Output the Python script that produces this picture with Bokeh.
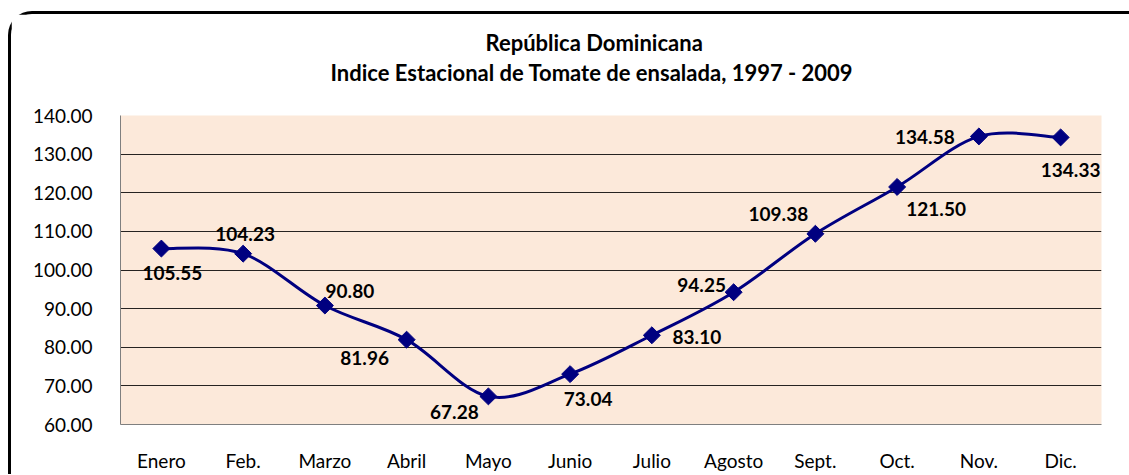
import math
from bokeh.plotting import figure
from bokeh.models import Range1d, FixedTicker, LabelSet, ColumnDataSource, NumeralTickFormatter, Title
from bokeh.core.properties import value
from bokeh.embed import file_html
from bokeh.resources import INLINE

months = ["Enero", "Feb.", "Marzo", "Abril", "Mayo", "Junio", "Julio",
          "Agosto", "Sept.", "Oct.", "Nov.", "Dic."]
values = [105.55, 104.23, 90.80, 81.96, 67.28, 73.04, 83.10,
          94.25, 109.38, 121.50, 134.58, 134.33]
y_ticks = [60, 70, 80, 90, 100, 110, 120, 130, 140]
title_1 = "República Dominicana"
title_2 = "Indice Estacional de  Tomate de ensalada,  1997 - 2009"

# label placement (screen px offsets, style only)
lab_dx = [11, 2, 25, -42, -34, 18, 45, -32, -37, 39, -54, 10]
lab_dy = [-24, 20, 15, -18, -16, -25, -2, 7, 20, -22, -1, -33]

FONT = "Lato"
NAVY = "#000080"

xs = list(range(1, len(months) + 1))

p = figure(frame_width=981, frame_height=309,
           x_range=Range1d(0.5, 12.5), y_range=Range1d(60, 140),
           output_backend="svg", toolbar_location=None,
           min_border_left=109, min_border_top=101,
           min_border_right=28, min_border_bottom=48)
p.styles = {"border-top": "3px solid black", "border-left": "3px solid black",
            "border-top-left-radius": "24px",
            "margin-top": "11px", "margin-left": "8px"}

p.background_fill_color = "#FCE9DA"
p.border_fill_color = "white"
p.outline_line_color = None

# titles (added bottom-up: spacer first, closest to the frame)
p.add_layout(Title(text=" ", text_font_size="24px", standoff=0), "above")
p.add_layout(Title(text=title_2, align="left", offset=210, text_font=FONT,
                   text_font_style="bold", text_font_size="22px", standoff=1,
                   text_color="black"), "above")
p.add_layout(Title(text=title_1, align="left", offset=365, text_font=FONT,
                   text_font_style="bold", text_font_size="22px", standoff=1,
                   text_color="black"), "above")

# axes
p.xaxis.ticker = FixedTicker(ticks=xs)
p.xaxis.major_label_overrides = {x: m for x, m in zip(xs, months)}
p.yaxis.ticker = FixedTicker(ticks=y_ticks)
p.yaxis.formatter = NumeralTickFormatter(format="0.00")
for ax in (p.xaxis, p.yaxis):
    ax.major_tick_line_color = None
    ax.minor_tick_line_color = None
    ax.axis_line_color = "#7f7f7f"
    ax.axis_line_width = 1
    ax.major_label_text_font = FONT
    ax.major_label_text_font_size = "19px"
    ax.major_label_text_color = "black"
p.xaxis.major_label_standoff = 18
p.yaxis.major_label_standoff = 22

p.xgrid.grid_line_color = None
p.ygrid.ticker = FixedTicker(ticks=y_ticks[1:])
p.ygrid.grid_line_color = "black"
p.ygrid.grid_line_width = 1
p.ygrid.grid_line_alpha = 0.85

# smoothed line (Catmull-Rom style bezier segments through the data points)
n = len(values)
x0s, y0s, x1s, y1s, cx0, cy0, cx1, cy1 = [], [], [], [], [], [], [], []
for i in range(n - 1):
    pa = (xs[max(i - 1, 0)], values[max(i - 1, 0)])
    pb = (xs[i], values[i])
    pc = (xs[i + 1], values[i + 1])
    pd = (xs[min(i + 2, n - 1)], values[min(i + 2, n - 1)])
    x0s.append(pb[0]); y0s.append(pb[1])
    x1s.append(pc[0]); y1s.append(pc[1])
    cx0.append(pb[0] + (pc[0] - pa[0]) / 6.0)
    cy0.append(pb[1] + (pc[1] - pa[1]) / 6.0)
    cx1.append(pc[0] - (pd[0] - pb[0]) / 6.0)
    cy1.append(pc[1] - (pd[1] - pb[1]) / 6.0)
bsrc = ColumnDataSource(dict(x0=x0s, y0=y0s, x1=x1s, y1=y1s,
                             cx0=cx0, cy0=cy0, cx1=cx1, cy1=cy1))
p.bezier(x0="x0", y0="y0", x1="x1", y1="y1", cx0="cx0", cy0="cy0",
         cx1="cx1", cy1="cy1", source=bsrc, line_color=NAVY, line_width=3)

src = ColumnDataSource(dict(x=xs, y=values,
                            txt=["%.2f" % v for v in values],
                            dx=lab_dx, dy=lab_dy))
p.scatter("x", "y", source=src, marker="square", size=12, angle=math.pi / 4,
          fill_color=NAVY, line_color=NAVY)

labels = LabelSet(x="x", y="y", text="txt", source=src,
                  x_offset="dx", y_offset="dy",
                  text_align="center", text_baseline="middle",
                  text_font=value(FONT), text_font_style="bold",
                  text_font_size="19px", text_color="black")
p.add_layout(labels)

open("out.html", "w").write(file_html(p, INLINE))
